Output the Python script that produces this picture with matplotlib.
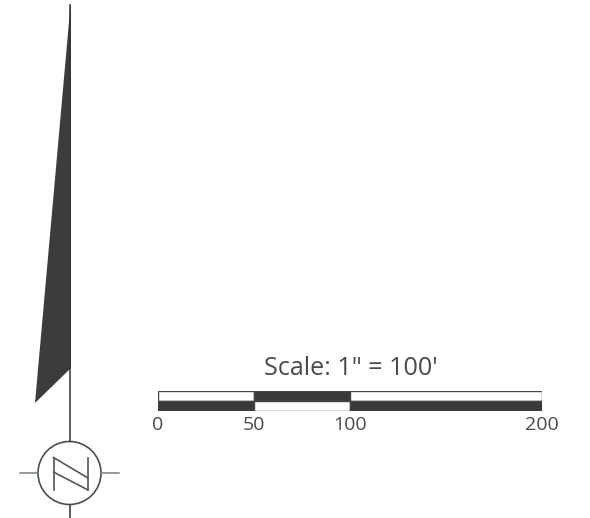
import matplotlib
matplotlib.use('Agg')
import matplotlib.pyplot as plt
from matplotlib.patches import Polygon, Circle

W, H = 590, 518

# scale bar values
scale_ticks = [0, 50, 100, 200]
scale_labels = ['0', '50', '100', '200']
top_colors = ['white', '#3a3a3a', 'white']
bottom_colors = ['#3a3a3a', 'white', '#3a3a3a']

# north arrow outline in pixels
needle_x = [70.5, 71, 71, 35]
needle_y = [5, 5, 368, 403]
# the N: two uprights and two diagonals
n_strokes = [
    ([53.5, 53.5], [457.5, 490]),
    ([88, 88], [457.5, 490]),
    ([53.5, 88], [457.5, 478]),
    ([53.5, 88], [472, 490]),
]

fig = plt.figure(figsize=(W / 100, H / 100), dpi=100, facecolor='white')
plt.rcParams['font.family'] = ['Open Sans', 'DejaVu Sans']

# pixel axes for the north arrow and title
ax = fig.add_axes([0, 0, 1, 1])
ax.set_xlim(0, W)
ax.set_ylim(H, 0)
ax.axis('off')

ax.add_patch(Polygon(list(zip(needle_x, needle_y)), closed=True, fc='#3c3c3c', ec='none'))
ax.plot([70, 70], [5, 441], color='#333333', lw=1.1)
ax.plot([70, 70], [505, 518], color='#333333', lw=1.1)
ax.plot([20, 38], [473, 473], color='#77807f', lw=1.1)
ax.plot([101, 119], [473, 473], color='#77807f', lw=1.1)
ax.add_patch(Circle((69.5, 473), 31.5, fc='none', ec='#4a4f4f', lw=1.2))
for sx, sy in n_strokes:
    ax.plot(sx, sy, color='#555555', lw=1.2)

ax.text(351, 375, 'Scale: 1" = 100\'', ha='center', va='baseline', fontsize=18.1, color='#4a4a4a')

# scale bar axes, x runs in feet
bar_ax = fig.add_axes([158 / W, 1 - 411 / H, 384 / W, 20.5 / H])
lefts = scale_ticks[:-1]
widths = [b - a for a, b in zip(scale_ticks[:-1], scale_ticks[1:])]
bar_ax.bar(lefts, [1] * 3, widths, bottom=1, align='edge', color=top_colors, ec='#444444', lw=1)
bar_ax.bar(lefts, [1] * 3, widths, bottom=0, align='edge', color=bottom_colors, ec='#444444', lw=1)
bar_ax.set_xlim(0, 200)
bar_ax.set_ylim(0, 2)
bar_ax.set_yticks([])
bar_ax.set_xticks(scale_ticks)
bar_ax.set_xticklabels(scale_labels, fontsize=14, color='#4a4a4a')
bar_ax.tick_params(axis='x', length=0, pad=3.5)
for side in bar_ax.spines.values():
    side.set_visible(False)

fig.savefig('out.png', dpi=100)
